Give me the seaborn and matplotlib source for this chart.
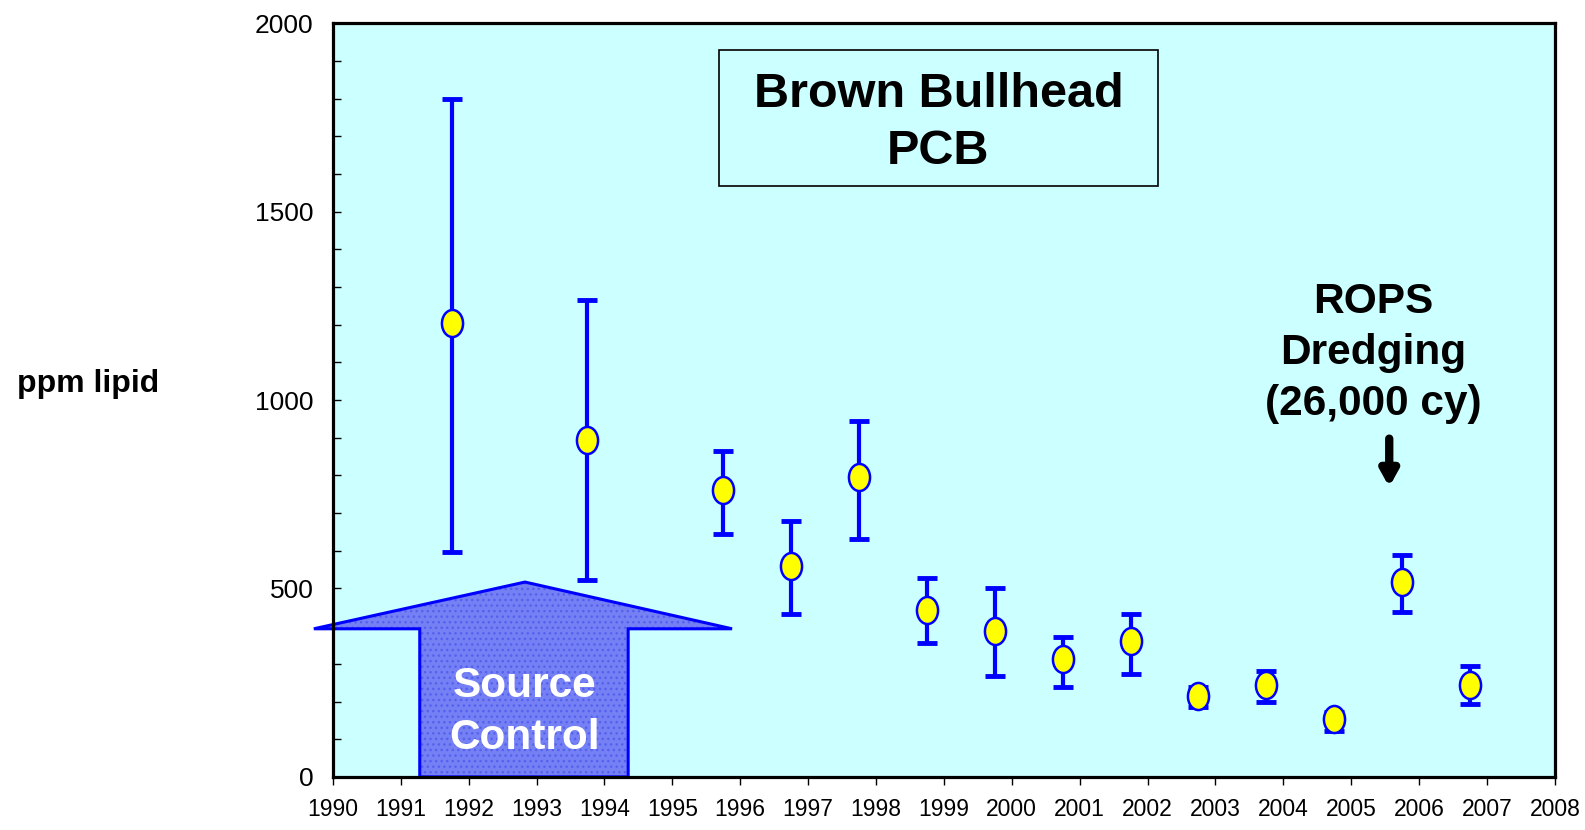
import numpy as np
import pandas as pd
import matplotlib
matplotlib.use('Agg')
import matplotlib.pyplot as plt
import seaborn as sns
from matplotlib.path import Path
from matplotlib.patches import Polygon, Rectangle
from matplotlib.ticker import MultipleLocator

# Datos: PCB en bagre (ppm lípido)
years = [1991.75, 1993.75, 1995.75, 1996.75, 1997.75, 1998.75, 1999.75,
         2000.75, 2001.75, 2002.75, 2003.75, 2004.75, 2005.75, 2006.75]
mean_pcb = [1205, 895, 760, 560, 795, 443, 387, 313, 361, 215, 244, 154, 517, 244]
upper_pcb = [1800, 1265, 865, 680, 945, 528, 501, 371, 432, 239, 281, 172, 589, 294]
lower_pcb = [597, 522, 645, 432, 631, 355, 268, 239, 273, 186, 199, 122, 438, 194]
year_ticks = list(range(1990, 2009))

df = pd.DataFrame({'year': years, 'pcb': mean_pcb,
                   'hi': upper_pcb, 'lo': lower_pcb})

sns.set_style('ticks')
plt.rcParams['font.family'] = ['Liberation Sans', 'DejaVu Sans']
plt.rcParams['text.color'] = 'black'
plt.rcParams['xtick.color'] = 'black'
plt.rcParams['ytick.color'] = 'black'

fig = plt.figure(figsize=(15.85, 8.30), dpi=100)
ax = fig.add_axes([0.210, 0.064, 0.771, 0.908])
ax.set_facecolor('#ccffff')

# barras de error asimétricas
yerr = np.array([df['pcb'] - df['lo'], df['hi'] - df['pcb']])
ax.errorbar(df['year'], df['pcb'], yerr=yerr, fmt='none', ecolor='#0000ff',
            elinewidth=3, capsize=7, capthick=3.5, zorder=3)

# marcador elíptico
ellipse = Path.unit_circle().transformed(
    matplotlib.transforms.Affine2D().scale(0.78, 1.0))
sns.scatterplot(data=df, x='year', y='pcb', ax=ax, marker=ellipse, s=380,
                color='#ffff00', edgecolor='#0000ff', linewidth=1.8,
                zorder=4, legend=False)

ax.set_xlim(1990, 2008)
ax.set_ylim(0, 2000)
ax.set_xticks(year_ticks)
ax.set_xticklabels([str(y) for y in year_ticks], fontsize=16.5)
ax.yaxis.set_major_locator(MultipleLocator(500))
ax.yaxis.set_minor_locator(MultipleLocator(100))
ax.tick_params(axis='y', which='both', direction='in', length=6, width=1,
               left=True, pad=14, labelsize=19)
ax.tick_params(axis='x', direction='out', length=6, width=1, pad=9)
for sp in ax.spines.values():
    sp.set_linewidth(2.3)
    sp.set_color('black')
ax.set_xlabel('')
ax.set_ylabel('')

fig.text(0.0555, 0.537, 'ppm lipid', fontsize=23, fontweight='bold',
         ha='center', va='center')

# caja de título
ax.add_patch(Rectangle((1995.69, 1568), 6.46, 360, facecolor='none',
                       edgecolor='black', linewidth=1.2, zorder=5))
ax.text(1998.92, 1735, 'Brown Bullhead\nPCB', fontsize=35, fontweight='bold',
        ha='center', va='center', linespacing=1.36, zorder=6)

# flecha "Source Control"
arrow_pts = [(1991.28, 0), (1991.28, 393), (1989.72, 393), (1992.83, 517),
             (1995.88, 393), (1994.35, 393), (1994.35, 0)]
ax.add_patch(Polygon(arrow_pts, closed=True, facecolor='#7480f4',
                     edgecolor='none', clip_on=False, zorder=2))
ax.add_patch(Polygon(arrow_pts, closed=True, facecolor='none',
                     edgecolor='#5560ee', linewidth=0, hatch='...',
                     clip_on=False, zorder=2))
ax.add_patch(Polygon(arrow_pts, closed=True, facecolor='none',
                     edgecolor='#0000ff', linewidth=2.2,
                     clip_on=False, zorder=2))
ax.text(1992.83, 172, 'Source\nControl', color='white', fontsize=30.5,
        fontweight='bold', ha='center', va='center', linespacing=1.36, zorder=6)

# anotación del dragado
ax.text(2005.32, 1125, 'ROPS\nDredging\n(26,000 cy)', fontsize=30.5,
        fontweight='bold', ha='center', va='center', linespacing=1.36, zorder=6)
ax.annotate('', xy=(2005.56, 762), xytext=(2005.56, 905),
            arrowprops=dict(arrowstyle='-|>,head_width=0.5,head_length=0.9',
                            color='black', lw=6), zorder=6)

fig.savefig('out.png', dpi=100)
